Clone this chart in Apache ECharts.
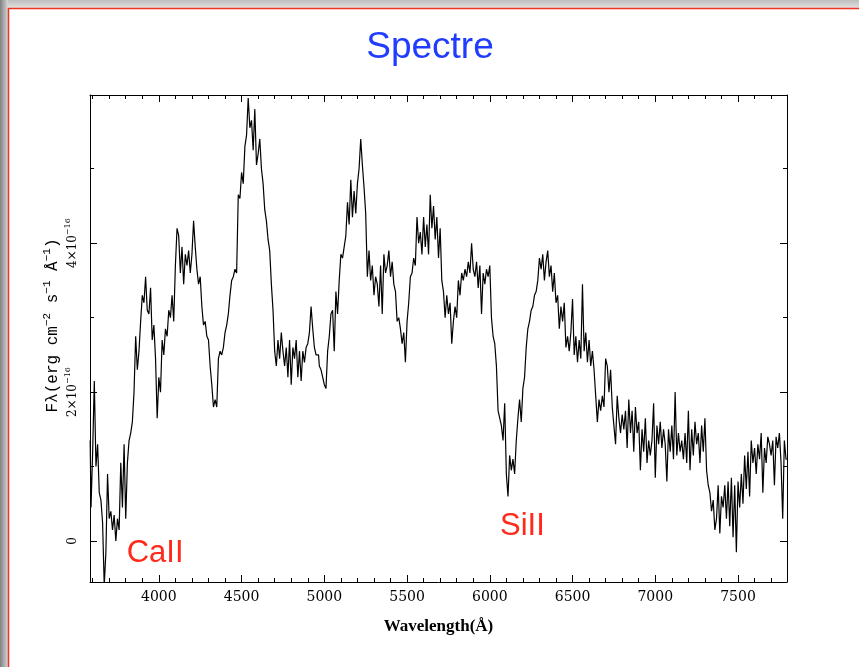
<!DOCTYPE html>
<html>
<head>
<meta charset="utf-8">
<script src="https://cdn.jsdelivr.net/npm/echarts@6/dist/echarts.min.js"></script>
<style>
  html, body { margin: 0; padding: 0; background: #ffffff; }
  #chart { width: 859px; height: 667px; }
</style>
</head>
<body>
<div id="chart"></div>
<script>
// Flux density F_lambda in units of 1e-16 erg cm^-2 s^-1 Å^-1,
// one value every 10 Å; each band starts at the wavelength in bandStart.
const sampleStep = 10;
const bandStart = [3585, 4005, 4505, 5005, 5505, 6005, 6505, 7005, 7505];

const flux3585 = [1.35, 0.45, 1.2, 2.15, 1.0, 1.3, 0.65, 0.55, 0.25, -0.6, -0.15, 0.9, 0.3, 0.4,
  0.15, 0.35, 0.0, 0.3, 0.15, 1.05, 0.45, 1.3, 0.3, 1.05, 1.35, 1.45, 1.6, 2.0, 2.75, 2.3,
  2.55, 2.95, 3.3, 3.2, 3.55, 3.1, 3.05, 3.4, 2.7, 2.9, 2.45, 1.65];
const flux4005 = [2.2, 2.0, 2.7, 2.5, 2.85, 2.75, 3.1, 3.0, 3.3, 2.95, 3.7, 4.2, 4.1, 3.6,
  3.95, 3.45, 3.85, 3.7, 3.9, 3.6, 3.85, 4.3, 3.95, 3.65, 3.45, 3.55, 3.15, 2.9, 2.95, 2.75,
  2.7, 2.35, 2.1, 1.8, 1.9, 1.8, 2.45, 2.55, 2.5, 2.6, 2.8, 2.9, 3.05, 3.3, 3.5, 3.55, 3.65,
  3.6, 4.65, 4.6];
const flux4505 = [4.95, 4.8, 5.3, 5.45, 5.95, 5.55, 5.65, 5.25, 5.8, 5.05, 5.2, 5.4, 5.0, 4.8,
  4.45, 4.3, 4.05, 3.9, 3.45, 3.1, 2.55, 2.35, 2.7, 2.45, 2.8, 2.55, 2.35, 2.6, 2.2, 2.7, 2.1,
  2.6, 2.45, 2.7, 2.2, 2.55, 2.15, 2.55, 2.4, 2.6, 2.65, 2.8, 3.15, 2.85, 2.6, 2.5, 2.5, 2.35,
  2.3, 2.2];
const flux5005 = [2.1, 2.05, 2.55, 2.75, 3.05, 3.1, 2.55, 3.35, 3.05, 3.5, 3.85, 3.8, 3.95, 4.1,
  4.55, 4.25, 4.85, 4.35, 4.7, 4.4, 4.8, 5.0, 5.4, 5.05, 4.75, 4.4, 3.55, 3.9, 3.5, 3.7, 3.3,
  3.55, 3.45, 3.15, 3.7, 3.05, 3.85, 3.6, 3.7, 3.9, 3.55, 3.75, 3.45, 3.35, 2.95, 3.0, 2.85,
  2.65, 2.8, 2.4];
const flux5505 = [2.95, 3.2, 3.55, 3.6, 3.8, 3.7, 4.35, 4.0, 4.15, 3.85, 4.35, 3.95, 4.25, 3.85,
  4.65, 4.2, 4.5, 4.05, 4.35, 3.8, 4.2, 3.5, 3.35, 3.0, 3.3, 3.05, 3.2, 2.65, 2.95, 3.15, 3.0,
  3.5, 3.3, 3.6, 3.5, 3.65, 3.55, 3.75, 3.6, 4.0, 3.65, 3.55, 3.75, 3.4, 3.7, 3.05, 3.6, 3.45,
  3.65, 3.55];
const flux6005 = [3.7, 3.0, 2.75, 2.65, 2.35, 1.75, 1.65, 1.55, 1.35, 1.85, 0.9, 0.6, 1.15, 0.95,
  1.1, 0.9, 1.35, 1.65, 1.9, 1.6, 2.05, 2.2, 2.6, 2.85, 2.95, 3.1, 3.15, 3.3, 3.35, 3.5, 3.8,
  3.65, 3.85, 3.5, 3.75, 3.9, 3.55, 3.7, 3.35, 3.6, 3.2, 3.3, 2.85, 3.15, 2.95, 3.2, 2.6, 2.75,
  2.55, 2.8];
const flux6505 = [3.25, 2.5, 2.75, 2.4, 2.7, 2.45, 3.45, 2.55, 2.8, 2.4, 2.7, 2.35, 2.55, 2.3,
  1.95, 1.6, 1.9, 1.75, 1.95, 1.8, 2.45, 2.35, 2.0, 2.3, 1.8, 1.55, 1.3, 1.95, 1.65, 1.45, 1.7,
  1.5, 1.75, 1.25, 1.9, 1.45, 1.75, 1.2, 1.8, 1.45, 1.6, 0.95, 1.5, 1.2, 1.65, 1.05, 1.35, 1.15,
  1.35, 1.85];
const flux7005 = [0.85, 1.55, 1.3, 1.6, 1.25, 1.5, 1.3, 0.8, 1.5, 1.2, 1.55, 1.1, 2.0, 1.15,
  1.45, 1.2, 1.35, 1.1, 1.45, 1.05, 1.75, 0.95, 1.5, 1.15, 1.6, 1.3, 1.45, 1.05, 1.55, 1.2, 1.65,
  0.95, 0.75, 0.65, 0.4, 0.55, 0.15, 0.3, 0.75, 0.1, 0.6, 0.45, 0.75, 0.3, 0.8, 0.2, 0.85, 0.05,
  0.75, -0.15];
const flux7505 = [0.8, 0.45, 0.9, 0.5, 1.15, 0.7, 1.2, 0.6, 1.35, 1.05, 1.25, 0.9, 1.3, 1.1,
  1.45, 0.65, 1.25, 1.05, 1.4, 1.3, 1.15, 1.35, 0.75, 1.4, 1.25, 1.45, 1.05, 0.3, 1.35, 1.1];

const fluxBands = [flux3585, flux4005, flux4505, flux5005, flux5505, flux6005, flux6505, flux7005, flux7505];

// Axis ranges
const waveMin = 3584, waveMax = 7796, waveMajor = 500;
const fluxMin = -0.55, fluxMax = 5.99, fluxMajor = 2;

// Line annotations: [label, wavelength, flux]
const lineLabels = [
  ['CaII', 3806, -0.16],
  ['SiII', 6062, 0.2]
];

const spectrum = [];
fluxBands.forEach(function (band, b) {
  band.forEach(function (f, i) {
    spectrum.push([bandStart[b] + i * sampleStep, f]);
  });
});

const serif = '"DejaVu Serif", "Liberation Serif", serif';
const mono = '"Liberation Mono", "DejaVu Sans Mono", monospace';
const sans = '"Liberation Sans", Arial, Helvetica, sans-serif';
const ink = '#000000';

const tickRich = {
  b: { fontFamily: serif, fontSize: 12, lineHeight: 18, color: ink },
  s: { fontFamily: serif, fontSize: 8, lineHeight: 9, color: ink, verticalAlign: 'top' }
};
const nameRich = {
  p: { fontFamily: mono, fontSize: 16, lineHeight: 22, color: ink, padding: [0, 0, 0, 26] },
  b: { fontFamily: mono, fontSize: 16, lineHeight: 22, color: ink },
  s: { fontFamily: mono, fontSize: 11, lineHeight: 12, color: ink, verticalAlign: 'top' }
};

function frameAxis(extra) {
  return Object.assign({
    type: 'value',
    scale: true,
    axisLine: { show: true, onZero: false, lineStyle: { color: ink, width: 1 } },
    axisTick: { show: true, inside: true, length: 7, lineStyle: { color: ink, width: 1 } },
    minorTick: { show: true, length: 4, lineStyle: { color: ink, width: 1 } },
    splitLine: { show: false },
    minorSplitLine: { show: false }
  }, extra);
}

const chart = echarts.init(document.getElementById('chart'), null, { renderer: 'canvas' });

chart.setOption({
  animation: false,
  backgroundColor: '#ffffff',
  grid: { left: 90, top: 95, width: 697, height: 487, containLabel: false },
  xAxis: [
    frameAxis({
      position: 'bottom',
      min: waveMin, max: waveMax,
      minInterval: waveMajor, maxInterval: waveMajor,
      minorTick: { show: true, splitNumber: 5, length: 4, lineStyle: { color: ink, width: 1 } },
      axisLabel: {
        show: true, margin: 8, color: ink, fontFamily: serif, fontSize: 14,
        showMinLabel: false, showMaxLabel: false,
        formatter: function (v) { return v % waveMajor === 0 ? String(v) : ''; }
      },
      name: 'Wavelength(Å)',
      nameLocation: 'middle',
      nameGap: 36,
      nameMoveOverlap: false,
      nameTextStyle: { color: ink, fontFamily: '"Liberation Serif", serif', fontWeight: 'bold', fontSize: 17 }
    }),
    frameAxis({
      position: 'top',
      min: waveMin, max: waveMax,
      minInterval: waveMajor, maxInterval: waveMajor,
      minorTick: { show: true, splitNumber: 5, length: 4, lineStyle: { color: ink, width: 1 } },
      axisLabel: { show: false }
    })
  ],
  yAxis: [
    frameAxis({
      position: 'left',
      min: fluxMin, max: fluxMax,
      minInterval: fluxMajor, maxInterval: fluxMajor,
      minorTick: { show: true, splitNumber: 2, length: 4, lineStyle: { color: ink, width: 1 } },
      axisLabel: {
        show: true, rotate: 90, margin: 8,
        showMinLabel: false, showMaxLabel: false,
        rich: tickRich,
        formatter: function (v) {
          if (Math.abs(v) < 1e-9) return '{b|0}';
          if (Math.abs(v % fluxMajor) < 1e-9) return '{b|' + v + '×10}{s|−16}';
          return '';
        }
      },
      name: '{p|Fλ(erg cm}{s|−2}{b| s}{s|−1}{b| Å}{s|−1}{b|)}',
      nameLocation: 'middle',
      nameGap: 26,
      nameRotate: 90,
      nameMoveOverlap: false,
      nameTextStyle: { rich: nameRich }
    }),
    frameAxis({
      position: 'right',
      min: fluxMin, max: fluxMax,
      minInterval: fluxMajor, maxInterval: fluxMajor,
      minorTick: { show: true, splitNumber: 2, length: 4, lineStyle: { color: ink, width: 1 } },
      axisLabel: { show: false }
    })
  ],
  series: [{
    type: 'line',
    name: 'spectrum',
    xAxisIndex: 0,
    yAxisIndex: 0,
    data: spectrum,
    step: 'middle',
    showSymbol: false,
    symbol: 'none',
    clip: true,
    lineStyle: { color: ink, width: 1.2 },
    silent: true
  }]
});

// Page decoration, title and ion labels
const decorations = [
  {
    type: 'rect', shape: { x: 0, y: 0, width: 859, height: 8 },
    style: { fill: new echarts.graphic.LinearGradient(0, 0, 0, 1, [
      { offset: 0, color: '#bdbdbd' }, { offset: 1, color: '#e2e2e2' }]) },
    silent: true, z: 100
  },
  {
    type: 'rect', shape: { x: 0, y: 0, width: 8, height: 667 },
    style: { fill: new echarts.graphic.LinearGradient(0, 0, 1, 0, [
      { offset: 0, color: '#808080' }, { offset: 1, color: '#d6d6d6' }]) },
    silent: true, z: 100
  },
  {
    type: 'line', shape: { x1: 8, y1: 8.5, x2: 859, y2: 8.5 },
    style: { stroke: '#ee3322', lineWidth: 1.5 }, silent: true, z: 101
  },
  {
    type: 'line', shape: { x1: 8.5, y1: 8, x2: 8.5, y2: 667 },
    style: { stroke: '#ee3322', lineWidth: 1.5 }, silent: true, z: 101
  },
  {
    type: 'text', x: 430, y: 48,
    style: { text: 'Spectre', font: '37px ' + sans, fill: '#1f3cff', align: 'center', verticalAlign: 'middle' },
    silent: true, z: 101
  }
];

lineLabels.forEach(function (lab) {
  const p = chart.convertToPixel({ xAxisIndex: 0, yAxisIndex: 0 }, [lab[1], lab[2]]);
  decorations.push({
    type: 'text', x: p[0], y: p[1],
    style: { text: lab[0], font: '31px ' + sans, fill: '#ff2a1a', align: 'left', verticalAlign: 'middle' },
    silent: true, z: 101
  });
});

chart.setOption({ graphic: decorations });
</script>
</body>
</html>
